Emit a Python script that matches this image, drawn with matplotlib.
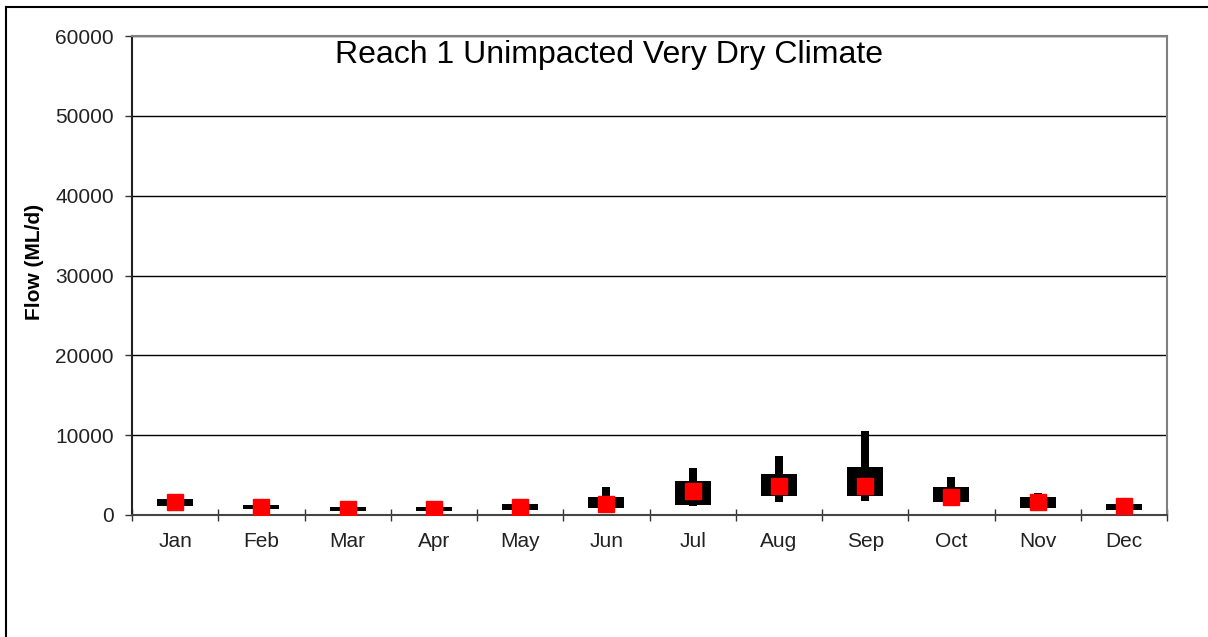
# Reach 1 unimpacted flow, very dry climate - monthly box summary

import matplotlib
matplotlib.use("Agg")
import matplotlib.pyplot as plt
from matplotlib.lines import Line2D
import numpy as np

plt.rcParams["font.family"] = ["Liberation Sans", "DejaVu Sans"]

months = ["Jan", "Feb", "Mar", "Apr", "May", "Jun",
          "Jul", "Aug", "Sep", "Oct", "Nov", "Dec"]

# box = inter-quartile-ish range, whisker = extremes, marker = median
box_lo = [1130, 710, 460, 460, 590, 920, 1250, 2340, 2380, 1590, 920, 630]
box_hi = [2040, 1250, 960, 960, 1420, 2220, 4260, 5100, 6010, 3470, 2220, 1380]
whisk_lo = [1130, 710, 460, 460, 590, 920, 1090, 1590, 1750, 1590, 920, 630]
whisk_hi = [2040, 1250, 960, 960, 1420, 3470, 5850, 7350, 10520, 4720, 2720, 1380]
median = [1590, 1040, 750, 790, 960, 1420, 3010, 3670, 3670, 2220, 1630, 1090]

title = "Reach 1 Unimpacted Very Dry Climate"
ylabel = "Flow (ML/d)"
yticks = [0, 10000, 20000, 30000, 40000, 50000, 60000]

W, H = 1208, 637
fig = plt.figure(figsize=(W / 100, H / 100), dpi=100)
ax = fig.add_axes([132 / W, 1 - 515 / H, (1167 - 132) / W, (515 - 36) / H])

x = np.arange(len(months))
lo = np.array(box_lo)
hi = np.array(box_hi)
wlo = np.array(whisk_lo)
whi = np.array(whisk_hi)

ax.bar(x, whi - wlo, bottom=wlo, width=0.095, color="black", zorder=3)
ax.bar(x, hi - lo, bottom=lo, width=0.42, color="black", zorder=3)
ax.plot(x, median, "s", color="red", markersize=11, zorder=4)

ax.set_xlim(-0.5, len(months) - 0.5)
ax.set_ylim(0, 60000)
ax.set_yticks(yticks)
ax.set_yticklabels([str(v) for v in yticks])
ax.yaxis.grid(True, color="black", linewidth=1)
ax.set_axisbelow(True)

ax.set_xticks(np.arange(-0.5, len(months)))
ax.set_xticklabels([])
ax.set_xticks(x, minor=True)
ax.set_xticklabels(months, minor=True)
ax.tick_params(axis="x", which="major", direction="inout", length=9, width=1, color="#333333")
ax.tick_params(axis="x", which="minor", length=0, pad=12, labelsize=15, labelcolor="#222222")
ax.tick_params(axis="y", direction="out", length=5, width=1, pad=8, labelsize=15,
               labelcolor="#222222", color="#333333")

for side in ("top", "right"):
    ax.spines[side].set_color("#808080")
    ax.spines[side].set_linewidth(1.5)
ax.spines["left"].set_color("#222222")
ax.spines["left"].set_linewidth(1.5)
ax.spines["bottom"].set_color("#444444")
ax.spines["bottom"].set_linewidth(1.5)

fig.text(609 / W, 1 - 63 / H, title, fontsize=23, ha="center", va="baseline")
fig.text(34 / W, 1 - 262 / H, ylabel, fontsize=15, fontweight="bold",
         rotation=90, ha="center", va="center")

# outer chart border (left and top edges visible)
fig.add_artist(Line2D([6 / W, 6 / W], [0, 1 - 7 / H], color="black", linewidth=1.5))
fig.add_artist(Line2D([6 / W, 1], [1 - 7 / H, 1 - 7 / H], color="black", linewidth=1.5))

fig.savefig("out.png", dpi=100)
